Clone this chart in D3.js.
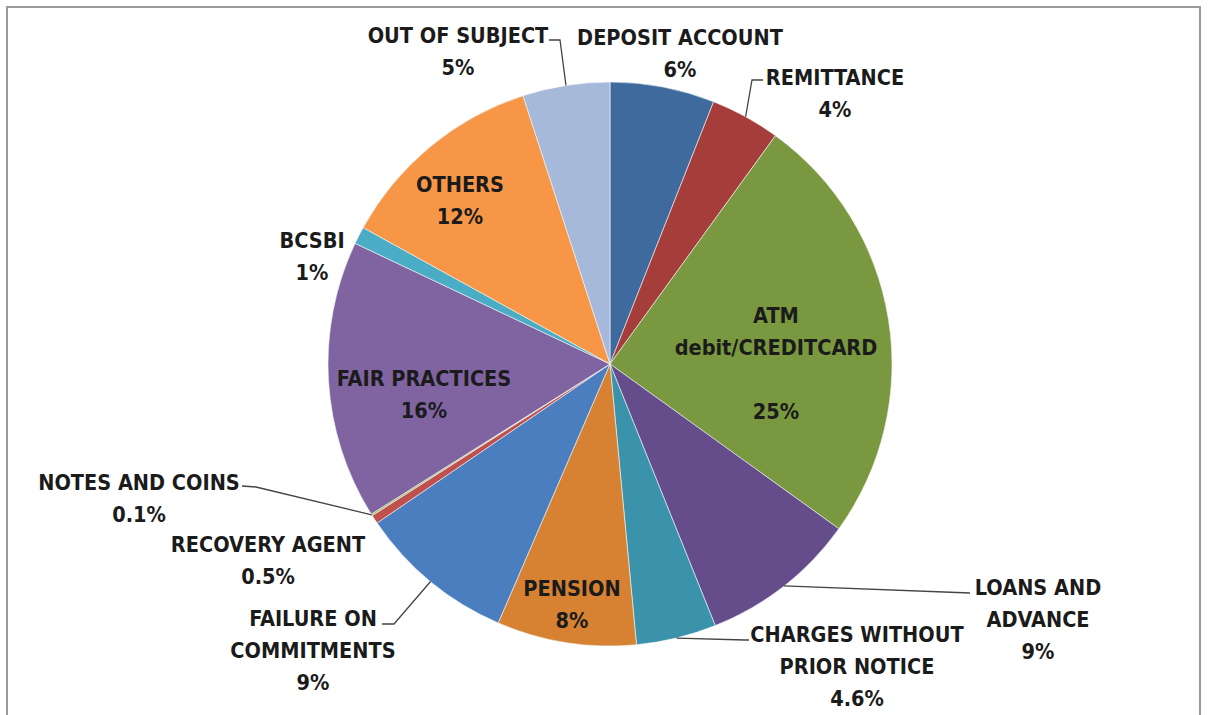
<!DOCTYPE html>
<html>
<head>
<meta charset="utf-8">
<script src="https://cdn.jsdelivr.net/npm/d3@7"></script>
<style>
  html, body { margin: 0; padding: 0; background: #fff; }
  text { font-family: "Liberation Sans Narrow", "DejaVu Sans Condensed", sans-serif; font-weight: bold; fill: #1b1b1b; }
</style>
</head>
<body>
<svg id="chart" width="1209" height="715"></svg>
<script>
// data (percent of complaints)
const categories = ["DEPOSIT ACCOUNT", "REMITTANCE", "ATM debit/CREDITCARD", "LOANS AND ADVANCE",
  "CHARGES WITHOUT PRIOR NOTICE", "PENSION", "FAILURE ON COMMITMENTS", "RECOVERY AGENT",
  "NOTES AND COINS", "FAIR PRACTICES", "BCSBI", "OTHERS", "OUT OF SUBJECT"];
const values = [6, 4, 25, 9, 4.6, 8, 9, 0.5, 0.1, 16, 1, 12, 5];
const valueLabels = ["6%", "4%", "25%", "9%", "4.6%", "8%", "9%", "0.5%", "0.1%", "16%", "1%", "12%", "5%"];
const labelLines = [
  ["DEPOSIT ACCOUNT"], ["REMITTANCE"], ["ATM", "debit/CREDITCARD", ""], ["LOANS AND", "ADVANCE"],
  ["CHARGES WITHOUT", "PRIOR NOTICE"], ["PENSION"], ["FAILURE ON", "COMMITMENTS"], ["RECOVERY AGENT"],
  ["NOTES AND COINS"], ["FAIR PRACTICES"], ["BCSBI"], ["OTHERS"], ["OUT OF SUBJECT"]
];
const colors = ["#3e6a9e", "#a53e3b", "#79983f", "#644d8a", "#3b93ab", "#d68232",
  "#4a7ebf", "#c0504d", "#9bbb59", "#8064a2", "#4bacc6", "#f79646", "#a6b9da"];

// label placement (centre of first line) and leader elbows
const labelPos = [
  [680, 37], [835, 77], [776, 315], [1038, 587], [857, 634], [572, 588], [313, 618],
  [268, 544], [139, 482], [424, 378], [312, 240], [460, 184], [458, 35]
];
const leaders = {
  1: [[763, 80], [752, 80]],
  3: [[970, 593]],
  4: [[749, 640], [745, 640]],
  6: [[382, 624], [394, 624]],
  8: [[242, 486], [256, 487]],
  12: [[549, 40], [560, 40]]
};

const cx = 610, cy = 364, r = 282;
const lineStep = 32;

const svg = d3.select("#chart");

// frame
svg.append("rect")
  .attr("x", 7).attr("y", 7)
  .attr("width", 1193).attr("height", 720)
  .attr("fill", "none")
  .attr("stroke", "#9a9a9a")
  .attr("stroke-width", 2);

const pie = d3.pie().sort(null).value(d => d)(values);
const arc = d3.arc().innerRadius(0).outerRadius(r);

const g = svg.append("g").attr("transform", `translate(${cx},${cy})`);

g.selectAll("path.slice")
  .data(pie)
  .join("path")
  .attr("class", "slice")
  .attr("d", arc)
  .attr("fill", (d, i) => colors[i])
  .attr("stroke", "#f4f6f8")
  .attr("stroke-width", 0.6);

// leader lines
Object.keys(leaders).forEach(k => {
  const d = pie[+k];
  const mid = (d.startAngle + d.endAngle) / 2;
  const edge = [cx + r * Math.sin(mid), cy - r * Math.cos(mid)];
  const pts = leaders[k].concat([edge]);
  svg.append("path")
    .attr("d", d3.line()(pts))
    .attr("fill", "none")
    .attr("stroke", "#444")
    .attr("stroke-width", 1.3);
});

// labels
categories.forEach((c, i) => {
  const lines = labelLines[i].concat([valueLabels[i]]);
  const t = svg.append("text")
    .attr("x", labelPos[i][0])
    .attr("y", labelPos[i][1])
    .attr("text-anchor", "middle")
    .attr("dominant-baseline", "central")
    .style("font-size", "21.5px");
  lines.forEach((ln, j) => {
    t.append("tspan")
      .attr("x", labelPos[i][0])
      .attr("y", labelPos[i][1] + j * lineStep)
      .text(ln);
  });
});
</script>
</body>
</html>
